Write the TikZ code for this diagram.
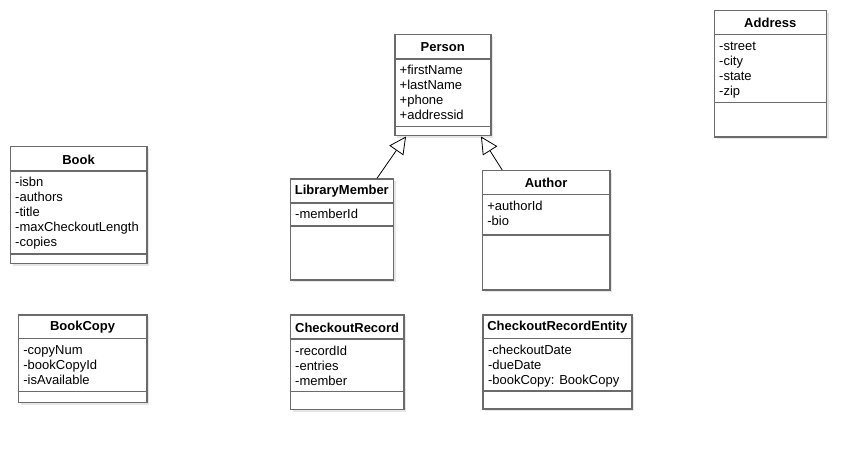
\documentclass[tikz,border=0pt]{standalone}
\usepackage{fontspec}
\setmainfont{Liberation Sans}
\usetikzlibrary{arrows.meta}
\definecolor{bordc}{HTML}{6B6B6B}
\definecolor{shadc}{HTML}{E6E6E6}
\tikzset{
  x=1pt, y=1pt,
  clsbox/.style={draw=bordc, line width=1.5pt, fill=white, inner sep=0pt},
  clsline/.style={draw=bordc, line width=1.5pt},
  clsshadow/.style={fill=shadc},
  clstitle/.style={font=\fontsize{13}{15}\selectfont\bfseries, inner sep=0pt, text=black},
  attr/.style={font=\fontsize{13}{15}\selectfont, inner sep=0pt, text=black},
  gen/.style={draw=black, line width=0.8pt, -{Triangle[length=17pt, width=17pt, fill=white, line width=0.8pt]}},
}
% #1 name, #2 x, #3 top y, #4 width, #5 height, #6 header offset, #7 divider offset, #8 title, #9 attributes
\newcommand\umlcls[9]{%
  \fill[clsshadow] (#2+3,-#3-3) rectangle (#2+#4+3,-#3-#5-3);
  \node[clsbox, minimum width=#4pt, minimum height=#5pt, anchor=north west] (#1) at (#2,-#3) {};
  \draw[clsline] ([yshift=-#6pt]#1.north west) -- ([yshift=-#6pt]#1.north east);
  \draw[clsline] ([yshift=-#7pt]#1.north west) -- ([yshift=-#7pt]#1.north east);
  \path (#1.north) ++(0,-#6/2-1) node[clstitle] (#1-t) {#8};
  \foreach \a [count=\i] in {#9} {
    \node[attr, anchor=base west] (#1-a\i) at ([xshift=5.5pt, yshift={-(#6+15*\i+1)*1pt}]#1.north west) {\a};
  }%
}
\begin{document}
\begin{tikzpicture}
\useasboundingbox[fill=white] (0,0) rectangle (865,-449);

\umlcls{person}{394}{34}{96}{101}{25}{92.5}{Person}{+firstName,+lastName,+phone,+addressid}
\umlcls{address}{713.5}{10}{112}{126.5}{24.5}{92.5}{Address}{-street,-city,-state,-zip}
\umlcls{book}{9.5}{146}{136.5}{117}{25}{108}{Book}{-isbn,-authors,-title,-maxCheckoutLength,-copies}
\umlcls{member}{289.5}{178.3}{103.2}{101}{24.5}{47.5}{LibraryMember}{-memberId}
\umlcls{author}{481.7}{170}{127.3}{119}{24.5}{65}{Author}{+authorId,-bio}
\umlcls{bookcopy}{17.7}{314}{128.3}{87.7}{24.7}{77.3}{BookCopy}{-copyNum,-bookCopyId,-isAvailable}
\umlcls{record}{289.5}{314}{113.8}{94.5}{25}{77.3}{CheckoutRecord}{-recordId,-entries,-member}
\umlcls{entity}{482.3}{314}{148.7}{94.3}{24.5}{77}{CheckoutRecordEntity}{-checkoutDate,-dueDate,-bookCopy: BookCopy}

\draw[gen] ([xshift=87.5pt]member.north west) -- ([xshift=12pt]person.south west);
\draw[gen] ([xshift=20.5pt]author.north west) -- ([xshift=-10.5pt]person.south east);
\end{tikzpicture}
\end{document}
